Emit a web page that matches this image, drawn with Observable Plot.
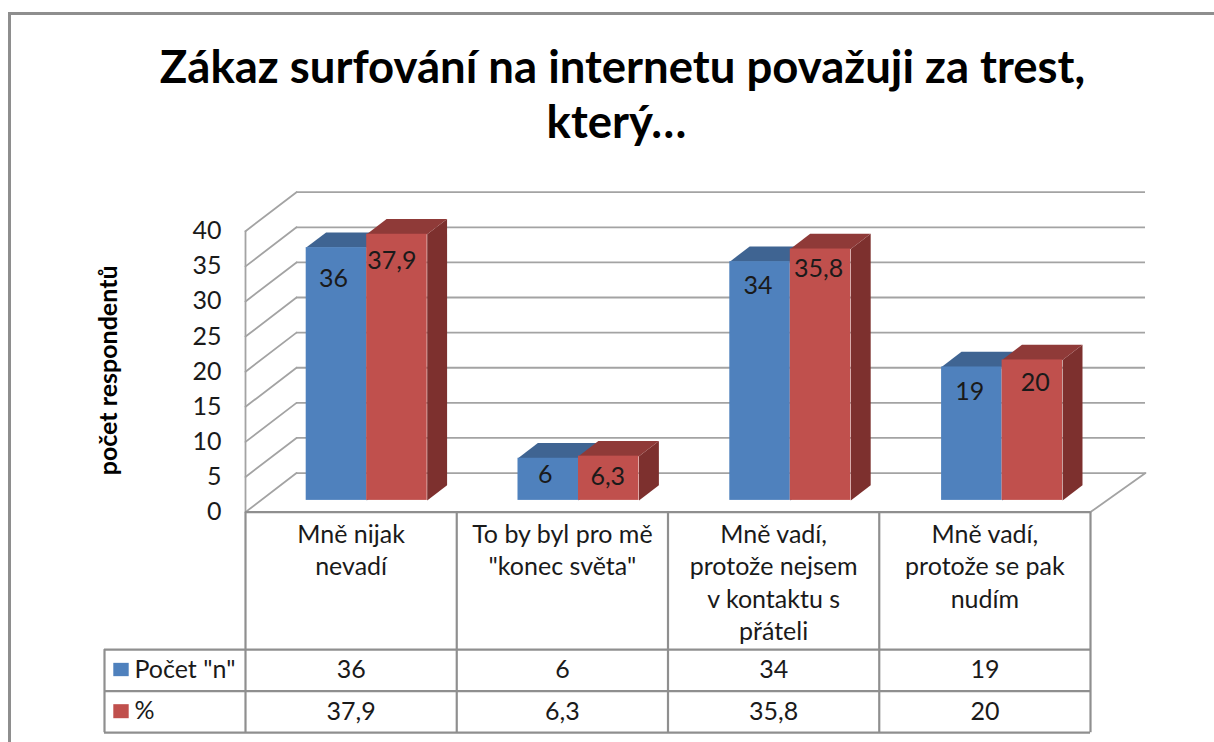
<!DOCTYPE html>
<html lang="cs">
<head>
<meta charset="utf-8">
<script src="https://cdn.jsdelivr.net/npm/d3@7"></script>
<script src="https://cdn.jsdelivr.net/npm/@observablehq/plot@0.6"></script>
<style>
html,body{margin:0;padding:0;background:#fff;}
#page{position:relative;width:1214px;height:742px;overflow:hidden;font-family:Lato,"Open Sans",sans-serif;}
#frame{position:absolute;left:8px;top:12px;width:1220px;height:760px;border:3px solid #8e8e8e;box-sizing:border-box;}
#title{position:absolute;left:0;top:38px;width:1245px;text-align:center;font-size:45.5px;font-weight:700;line-height:55px;color:#000;margin:0;}
#title span{position:relative;left:-6px;}
#chart{position:absolute;left:0;top:0;}
</style>
</head>
<body>
<div id="page">
<div id="frame"></div>
<h1 id="title">Zákaz surfování na internetu považuji za trest,<br><span>který…</span></h1>
<div id="chart"></div>
</div>
<script>
// ---- data ----
const categories = ["Mně nijak\nnevadí", "To by byl pro mě\n\"konec světa\"", "Mně vadí,\nprotože nejsem\nv kontaktu s\npřáteli", "Mně vadí,\nprotože se pak\nnudím"];
const countValues = [36, 6, 34, 19];
const percentValues = [37.9, 6.3, 35.8, 20];
const countLabels = ["36", "6", "34", "19"];
const percentLabels = ["37,9", "6,3", "35,8", "20"];
const seriesNames = ["Počet \"n\"", "%"];
const yTicks = [0, 5, 10, 15, 20, 25, 30, 35, 40];

// ---- layout ----
const pxPerCat = 211.25, pxPerUnit = 7.015, x0Px = 245, y0Px = 511.6;
const X = px => (px - x0Px) / pxPerCat;
const Y = px => (y0Px - px) / pxPerUnit;
const depthX = 51 / pxPerCat, depthY = 39 / pxPerUnit;
const barStart = 0.2149, barW = 0.2864, barStep = 1.0026, dNear = 0.3, dFar = 0.69;
const gridEnd = X(1145);
const gridC = "#a3a3a3", tableC = "#8f8f8f", inkC = "#1a1a1a";
const font = 25;
const countDx = [-3, -3, -2, -2], countDy = [31, 17, 24, 25];
const percentDx = [-5, -1, -2, 3], percentDy = [27, 21, 20, 23];
const rowLines = [649, 690.5, 732];
const rowMid = [669, 711];

// oblique projection: (category, value, depth) -> x/y in the plot's data units
const P = (c, v, d) => ({x: c + d * depthX, y: v + d * depthY});

function faces(values, offset, topFill, sideFill) {
  const tops = [], sides = [], fronts = [];
  values.forEach((v, i) => {
    const a = i * barStep + barStart + offset * barW, b = a + barW;
    tops.push(...[P(a, v, dNear), P(b, v, dNear), P(b, v, dFar), P(a, v, dFar)].map(p => ({...p, g: i})));
    sides.push(...[P(b, 0, dNear), P(b, v, dNear), P(b, v, dFar), P(b, 0, dFar)].map(p => ({...p, g: i})));
    const n = P(a, 0, dNear), m = P(b, v, dNear);
    fronts.push({x1: n.x, x2: m.x, y1: n.y, y2: m.y});
  });
  return [
    Plot.line(sides, {x: "x", y: "y", z: "g", fill: sideFill, stroke: "none"}),
    Plot.line(tops, {x: "x", y: "y", z: "g", fill: topFill, stroke: "none"}),
    fronts
  ];
}

const blue = faces(countValues, 0, "#3f6492", "#36587f");
const red = faces(percentValues, 1, "#8f3a38", "#7d302e");
const front = (f, c) => Plot.rect(f, {x1: "x1", x2: "x2", y1: "y1", y2: "y2", fill: c});

const centres = categories.map((_, i) => i + 0.5);
const columns = [0, 1, 2, 3, 4];

const barLabel = (values, labels, offset, dxs, dys) => labels.map((t, i) => {
  const p = P(i * barStep + barStart + (offset + 0.5) * barW, values[i], dNear);
  return {t, x: p.x, y: p.y, dx: dxs[i], dy: dys[i]};
});
const labelData = [...barLabel(countValues, countLabels, 0, countDx, countDy),
                   ...barLabel(percentValues, percentLabels, 1, percentDx, percentDy)];

const chart = Plot.plot({
  width: 1214, height: 742,
  marginLeft: x0Px, marginRight: 1214 - x0Px - 4 * pxPerCat - 51, marginTop: 191.7, marginBottom: 742 - y0Px,
  style: {background: "transparent", fontFamily: "Lato, 'Open Sans', sans-serif", overflow: "visible"},
  x: {domain: [0, 4 + depthX], axis: null},
  y: {domain: [0, 40 + depthY], axis: null},
  marks: [
    // back wall
    Plot.ruleY(yTicks, {x1: depthX, x2: gridEnd, y: d => d + depthY, stroke: gridC, strokeWidth: 1.8}),
    // left wall
    ...yTicks.map(t => Plot.line([P(0, t, 0), P(0, t, 1)], {x: "x", y: "y", stroke: gridC, strokeWidth: 1.8})),
    Plot.ruleX([0], {y1: 0, y2: 40, stroke: gridC, strokeWidth: 1.8}),
    // floor right edge
    Plot.line([{x: 4, y: 0}, {x: gridEnd, y: depthY}], {x: "x", y: "y", stroke: gridC, strokeWidth: 1.8}),
    // bars
    blue[0], blue[1], front(blue[2], "#4f81bd"),
    red[0], red[1], front(red[2], "#c0504d"),
    // y axis
    Plot.axisY(yTicks, {anchor: "left", tickSize: 0, tickPadding: 24, fontSize: font, label: null, color: inkC, tickFormat: d => String(d)}),
    Plot.text(["počet respondentů"], {x: X(108), y: Y(370), text: d => d, rotate: -90, fontSize: 25, fontWeight: 700, fill: "#000"}),
    // bar value labels
    Plot.text(labelData, {x: "x", y: "y", text: "t", fontSize: font, fill: inkC,
      render(index, scales, values, dims, ctx, next) {
        const g = next(index, scales, values, dims, ctx);
        d3.select(g).selectAll("text").attr("transform", function (_, j) {
          const i = index[j];
          return `translate(${scales.x(labelData[i].x) + labelData[i].dx},${scales.y(labelData[i].y) + labelData[i].dy})`;
        });
        return g;
      }}),
    // data table lines
    Plot.ruleY([0], {x1: 0, x2: 4, stroke: tableC, strokeWidth: 2.2}),
    Plot.ruleY(rowLines.map(Y), {x1: X(104), x2: 4, stroke: tableC, strokeWidth: 2.2}),
    Plot.ruleX(columns, {y1: 0, y2: Y(rowLines[2]), stroke: tableC, strokeWidth: 2.2}),
    Plot.ruleX([X(104)], {y1: Y(rowLines[0]), y2: Y(rowLines[2]), stroke: tableC, strokeWidth: 2.2}),
    // category labels
    Plot.text(categories, {x: (_, i) => centres[i], y: Y(519), text: d => d, lineAnchor: "top", lineHeight: 1.3, fontSize: font, fill: inkC}),
    // table values
    Plot.text(countLabels, {x: (_, i) => centres[i], y: Y(rowMid[0]), text: d => d, fontSize: font, fill: inkC}),
    Plot.text(percentLabels, {x: (_, i) => centres[i], y: Y(rowMid[1]), text: d => d, fontSize: font, fill: inkC}),
    // legend keys in the table
    Plot.rect([0], {x1: X(113.3), x2: X(128.7), y1: Y(676), y2: Y(662.7), fill: "#4f81bd"}),
    Plot.rect([0], {x1: X(113.3), x2: X(128.7), y1: Y(718), y2: Y(704), fill: "#c0504d"}),
    Plot.text([seriesNames[0]], {x: X(134), y: Y(rowMid[0]), text: d => d, textAnchor: "start", fontSize: font, fill: inkC}),
    Plot.text([seriesNames[1]], {x: X(134), y: Y(rowMid[1] - 1), text: d => d, textAnchor: "start", fontSize: font, fill: inkC})
  ]
});
document.getElementById("chart").appendChild(chart);
</script>
</body>
</html>
